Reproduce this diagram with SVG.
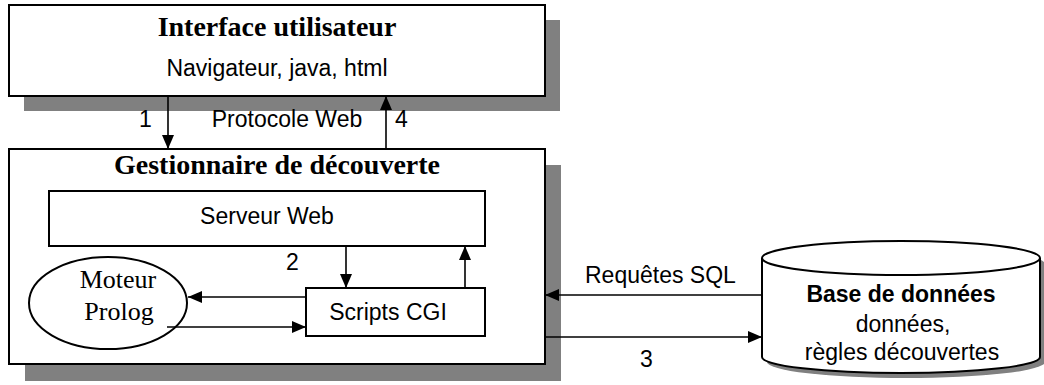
<svg xmlns="http://www.w3.org/2000/svg" width="1044" height="385" viewBox="0 0 1044 385">
<style>
.box{fill:#fff;stroke:#000;stroke-width:2}
.shadow{fill:#808080;stroke:none}
.serifb{font-family:"Liberation Serif","Times New Roman",serif;font-weight:bold;font-size:28px;fill:#000}
.serif{font-family:"Liberation Serif","Times New Roman",serif;font-size:26px;fill:#000}
.sans{font-family:"Liberation Sans",Arial,sans-serif;font-size:23px;fill:#000}
.sansb{font-family:"Liberation Sans",Arial,sans-serif;font-size:23px;font-weight:bold;fill:#000}
.conn{stroke:#000;stroke-width:1.6;fill:none;marker-end:url(#arr)}
</style>
<defs>
<marker id="arr" viewBox="0 0 14 12" refX="14" refY="6" markerWidth="14" markerHeight="12" markerUnits="userSpaceOnUse" orient="auto">
<path d="M0,0 L14,6 L0,12 z" fill="#000"/>
</marker>
</defs>
<rect width="1044" height="385" fill="#fff"/>

<g id="interface">
<rect class="shadow" x="24" y="20" width="536" height="91"/>
<rect class="box" x="9" y="5" width="536" height="91"/>
<text class="serifb" x="277" y="36" text-anchor="middle">Interface utilisateur</text>
<text class="sans" x="277" y="76" text-anchor="middle">Navigateur, java, html</text>
</g>

<g id="gestionnaire">
<rect class="shadow" x="25" y="165" width="536" height="216"/>
<rect class="box" x="9" y="149" width="536" height="215"/>
<text class="serifb" x="277" y="174" text-anchor="middle">Gestionnaire de découverte</text>
</g>

<g id="serveur">
<rect class="box" x="49" y="191" width="436" height="55"/>
<text class="sans" x="267" y="224" text-anchor="middle">Serveur Web</text>
</g>

<g id="scripts">
<rect class="box" x="306" y="288" width="179" height="48"/>
<text class="sans" x="388" y="320" text-anchor="middle">Scripts CGI</text>
</g>

<g id="moteur">
<ellipse cx="108" cy="303" rx="79" ry="46" fill="#fff" stroke="#000" stroke-width="2"/>
<text class="serif" x="118" y="288" text-anchor="middle">Moteur</text>
<text class="serif" x="119" y="320" text-anchor="middle">Prolog</text>
</g>

<g id="base">
<path class="shadow" d="M767,264 A139,17 0 0 1 1045,264 L1045,362 A139,16 0 0 1 767,362 Z"/>
<path d="M762,258 A139,17 0 0 1 1040,258 L1040,357 A139,16 0 0 1 762,357 Z" fill="#fff" stroke="#000" stroke-width="2"/>
<path d="M762,258 A139,17 0 0 0 1040,258" fill="none" stroke="#000" stroke-width="2"/>
<text class="sansb" x="901" y="302" text-anchor="middle">Base de données</text>
<text class="sans" x="903" y="332" text-anchor="middle">données,</text>
<text class="sans" x="902" y="360" text-anchor="middle">règles découvertes</text>
</g>

<g id="connectors">
<line class="conn" x1="168" y1="96" x2="168" y2="149"/>
<line class="conn" x1="386" y1="149" x2="386" y2="96"/>
<line class="conn" x1="346" y1="246" x2="346" y2="288"/>
<line class="conn" x1="465" y1="288" x2="465" y2="246"/>
<line class="conn" x1="306" y1="297" x2="188" y2="297"/>
<line class="conn" x1="167" y1="327" x2="306" y2="327"/>
<line class="conn" x1="762" y1="295" x2="545" y2="295"/>
<line class="conn" x1="545" y1="337" x2="762" y2="337"/>
<text class="sans" x="139" y="127">1</text>
<text class="sans" x="287" y="127" text-anchor="middle">Protocole Web</text>
<text class="sans" x="395" y="127">4</text>
<text class="sans" x="286" y="270">2</text>
<text class="sans" x="585" y="283">Requêtes SQL</text>
<text class="sans" x="640" y="367">3</text>
</g>
</svg>
